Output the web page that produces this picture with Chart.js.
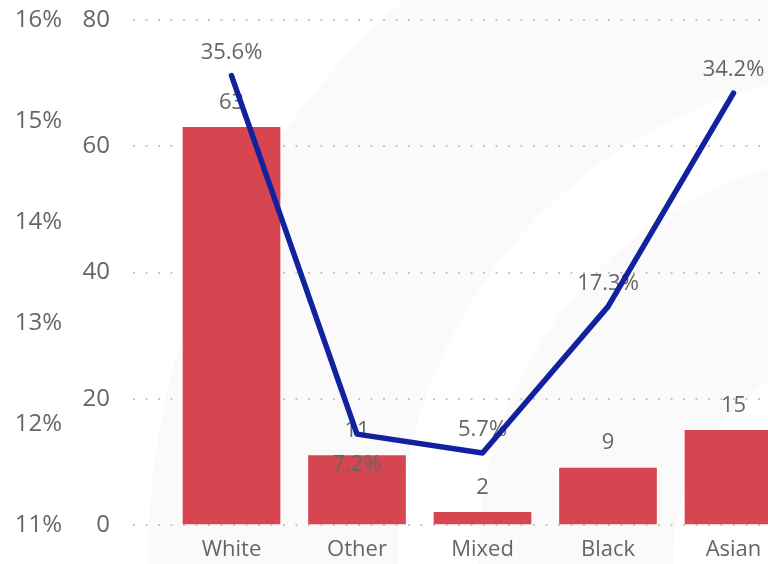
<!DOCTYPE html>
<html>
<head>
<meta charset="utf-8">
<script src="https://cdn.jsdelivr.net/npm/chart.js@4/dist/chart.umd.min.js"></script>
<style>
    html, body { margin: 0; padding: 0; background: #fff; }
    #wrap { width: 768px; height: 564px; position: relative; }
</style>
</head>
<body>
<div id="wrap"><canvas id="myChart"></canvas></div>
<script>
var categories = ['White', 'Other', 'Mixed', 'Black', 'Asian'],
    counts = [63, 11, 2, 9, 15],
    shares = [35.6, 7.2, 5.7, 17.3, 34.2],
    shareLabels = ['35.6%', '7.2%', '5.7%', '17.3%', '34.2%'],
    countTicks = [0, 20, 40, 60, 80],
    pctTicks = ['11%', '12%', '13%', '14%', '15%', '16%'];

var textColor = '#666666',
    fontFamily = "'Segoe UI', 'Open Sans', sans-serif";

// faint watermark rings behind the plot
var backdrop = {
    id: 'backdrop',
    beforeDraw: function (chart) {
        var ctx = chart.ctx,
            rings = [[740, '#fafafa'], [490, '#ffffff'], [410, '#fafafa'], [215, '#ffffff']];
        ctx.save();
        rings.forEach(function (r) {
            ctx.beginPath();
            ctx.arc(888, 560, r[0], 0, Math.PI * 2);
            ctx.fillStyle = r[1];
            ctx.fill();
        });
        ctx.restore();
    }
};

var valueLabels = {
    id: 'valueLabels',
    afterDatasetDraw: function (chart, args) {
        if (args.index !== 0) {
            return;
        }
        var ctx = chart.ctx,
            bars = chart.getDatasetMeta(0).data,
            pts = chart.getDatasetMeta(1).data,
            below = [false, true, false, false, false];

        ctx.save();
        ctx.font = '22px ' + fontFamily;
        ctx.fillStyle = textColor;
        ctx.textAlign = 'center';
        ctx.textBaseline = 'middle';

        bars.forEach(function (bar, i) {
            ctx.fillText(String(counts[i]), bar.x, bar.y - 25);
        });
        pts.forEach(function (p, i) {
            ctx.fillText(shareLabels[i], p.x, below[i] ? p.y + 31 : p.y - 23);
        });
        ctx.restore();
    }
};

// keep the tick padding from pushing the plot down
function fitSide(width) {
    return function (scale) {
        scale.width = width;
        scale.paddingTop = 14;
        scale.paddingBottom = 14;
    };
}

var chart = new Chart(document.getElementById('myChart').getContext('2d'), {
    data: {
        datasets: [
            {
                type: 'bar',
                data: categories.map(function (c, i) { return {x: i, y: counts[i]}; }),
                backgroundColor: '#d64550',
                barThickness: 97,
                yAxisID: 'y',
                order: 1
            },
            {
                type: 'line',
                data: categories.map(function (c, i) { return {x: i, y: shares[i]}; }),
                borderColor: '#12229e',
                borderWidth: 5.5,
                borderCapStyle: 'round',
                borderJoinStyle: 'round',
                pointRadius: 0,
                tension: 0,
                yAxisID: 'y1',
                order: 0
            }
        ]
    },
    options: {
        responsive: true,
        maintainAspectRatio: false,
        animation: false,
        layout: {padding: {top: 20, right: 0, left: 0, bottom: 0}},
        plugins: {legend: {display: false}, tooltip: {enabled: false}},
        scales: {
            x: {
                type: 'linear',
                offset: false,
                min: -0.785,
                max: 4.275,
                afterBuildTicks: function (scale) {
                    scale.ticks = categories.map(function (c, i) { return {value: i}; });
                },
                afterFit: function (scale) {
                    scale.height = 39;
                    scale.paddingLeft = 0;
                    scale.paddingRight = 0;
                },
                grid: {display: false, drawTicks: false, offset: false},
                border: {display: false},
                ticks: {
                    autoSkip: false,
                    maxRotation: 0,
                    padding: 12,
                    color: textColor,
                    font: {family: fontFamily, size: 22},
                    callback: function (v) { return categories[v]; }
                }
            },
            y: {
                position: 'left',
                weight: 0,
                min: 0,
                max: 80,
                afterBuildTicks: function (scale) {
                    scale.ticks = countTicks.map(function (v) { return {value: v}; });
                },
                afterFit: fitSide(65),
                grid: {
                    color: '#c6c6c6',
                    lineWidth: 2,
                    drawTicks: false
                },
                border: {display: false, dash: [2, 10.5]},
                ticks: {
                    padding: 23,
                    color: textColor,
                    font: {family: fontFamily, size: 24}
                }
            },
            y1: {
                position: 'left',
                weight: 1,
                min: 0,
                max: 40,
                afterBuildTicks: function (scale) {
                    scale.ticks = pctTicks.map(function (t, i) { return {value: i * 8}; });
                },
                afterFit: fitSide(68),
                grid: {display: false, drawTicks: false},
                border: {display: false},
                ticks: {
                    padding: 6,
                    color: textColor,
                    font: {family: fontFamily, size: 24},
                    callback: function (v, i) { return pctTicks[i]; }
                }
            }
        }
    },
    plugins: [backdrop, valueLabels]
});
</script>
</body>
</html>
